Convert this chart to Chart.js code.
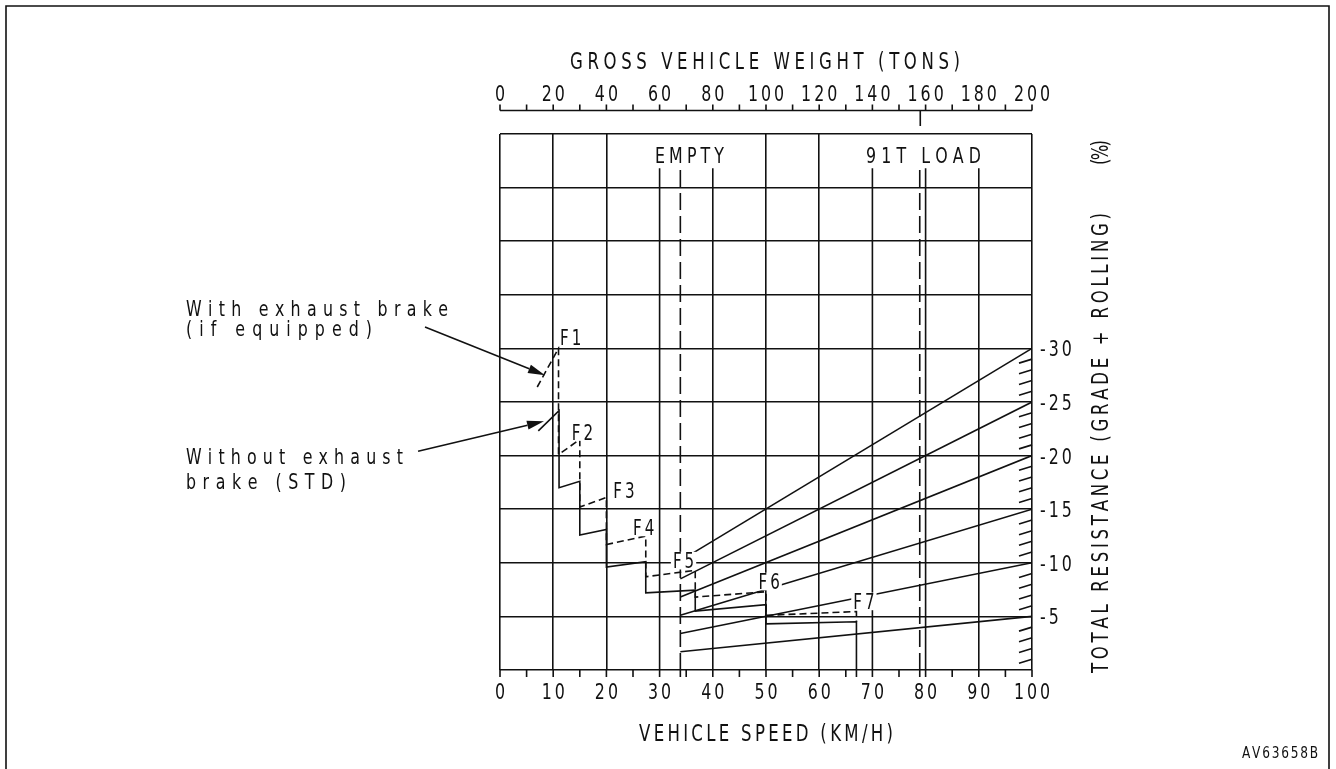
<!DOCTYPE html>
<html>
<head>
<meta charset="utf-8">
<title>Retarder performance</title>
<script src="https://cdn.jsdelivr.net/npm/chart.js@4.4.1/dist/chart.umd.min.js"></script>
<style>
  html, body { margin: 0; padding: 0; background: #fff; }
  #wrap { width: 1336px; height: 769px; }
</style>
</head>
<body>
<div id="wrap"><canvas id="chart" width="1336" height="769"></canvas></div>
<script>
// ---- axes ----
const SPEED_LABELS = [0, 10, 20, 30, 40, 50, 60, 70, 80, 90, 100];
const SPEED_TICKS = [0, 5, 10, 15, 20, 25, 30, 35, 40, 45, 50, 55, 60, 65, 70, 75, 80, 85, 90, 95, 100];
const WEIGHT_LABELS = [0, 20, 40, 60, 80, 100, 120, 140, 160, 180, 200];
const WEIGHT_TICKS = [0, 10, 20, 30, 40, 50, 60, 70, 80, 90, 100, 110, 120, 130, 140, 150, 160, 170, 180, 190, 200];
const RESIST_LABELS = [5, 10, 15, 20, 25, 30];
const RESIST_HATCH = [1, 2, 3, 4, 6, 7, 8, 9, 11, 12, 13, 14, 16, 17, 18, 19, 21, 22, 23, 24, 26, 27, 28, 29];

// verticals that stop below the EMPTY / 91T LOAD captions
const FULL_GRID_SPEEDS = [0, 10, 20, 50, 60, 100];
const SHORT_GRID_SPEEDS = [30, 40, 70, 80, 90];
const SHORT_GRID_TOP = 46.8;

// empty / loaded machine
const EMPTY_SPEED = 33.9;
const LOADED_SPEED = 78.9;
const LOADED_WEIGHT = 158;

// total resistance lines: value at 200 t and value where they leave the EMPTY line
const GRADES = [5, 10, 15, 20, 25, 30];
const GRADE_AT_EMPTY = [1.7, 3.4, 5.1, 6.8, 8.5, 10.2];

// brake curves (speed km/h, resistance %)
const STD_SPEED  = [7.2, 11.1, 11.1, 15.0, 15.0, 20.0, 20.0, 27.4, 27.4, 36.7, 36.7, 50.0, 50.0, 67.0, 67.0];
const STD_RESIST = [22.3, 24.2, 17.0, 17.6, 12.6, 13.1, 9.6, 10.1, 7.2, 7.45, 5.5, 6.1, 4.3, 4.5, 0];
const EXH_SPEED  = [7.0, 11.0, 11.0, 15.0, 15.0, 20.0, 20.0, 27.4, 27.4, 36.7, 36.7, 50.0, 50.0, 67.0, 67.0];
const EXH_RESIST = [26.4, 30.0, 20.1, 21.5, 15.2, 16.1, 11.7, 12.5, 8.7, 9.3, 6.8, 7.3, 5.1, 5.45, 4.5];

// gear captions
const GEARS = ['F1', 'F2', 'F3', 'F4', 'F5', 'F6', 'F7'];
const GEAR_SPEED = [13.3, 15.5, 23.3, 27.0, 34.5, 50.6, 68.4];
const GEAR_RESIST = [31.0, 22.2, 16.8, 13.3, 10.2, 8.25, 6.4];

// callout arrows [from speed, from %, to speed, to %]
const ARROW_EXH = [-14.1, 32.0, 8.46, 27.5];
const ARROW_STD = [-15.4, 20.4, 8.27, 23.2];

const INK = '#111';
const FONT = "'DejaVu Sans Condensed', 'DejaVu Sans', sans-serif";
const SQUEEZE = 0.8;

function pts(xs, ys) { return xs.map((x, i) => ({ x, y: ys[i] })); }

function line(data, dash) {
  return {
    data, showLine: true, pointRadius: 0, borderColor: INK, borderWidth: 1.6,
    borderDash: dash || [], fill: false, tension: 0
  };
}

const datasets = [];
GRADES.forEach((g, i) => datasets.push(line([{ x: EMPTY_SPEED, y: GRADE_AT_EMPTY[i] }, { x: 100, y: g }])));
SHORT_GRID_SPEEDS.forEach(s => datasets.push(line([{ x: s, y: 0 }, { x: s, y: SHORT_GRID_TOP }])));
datasets.push(line([{ x: EMPTY_SPEED, y: 0 }, { x: EMPTY_SPEED, y: SHORT_GRID_TOP }], [17, 6]));
datasets.push(line([{ x: LOADED_SPEED, y: 0 }, { x: LOADED_SPEED, y: SHORT_GRID_TOP }], [17, 6]));
datasets.push(line(pts(STD_SPEED, STD_RESIST)));
datasets.push(line(pts(EXH_SPEED, EXH_RESIST), [7, 4]));

// narrow lettering drawn glyph by glyph; gap or total width sets the spacing
function spaced(ctx, text, x, cy, o) {
  const size = o.size || 22;
  const sx = o.squeeze || SQUEEZE;
  ctx.font = size + 'px ' + FONT;
  const chars = [...text];
  const w = chars.map(c => ctx.measureText(c).width * sx);
  const raw = w.reduce((a, b) => a + b, 0);
  let gap = o.gap || 0;
  if (o.width) gap = (o.width - raw) / (chars.length - 1);
  const total = raw + gap * (chars.length - 1);
  let cx = o.align === 'center' ? x - total / 2 : o.align === 'right' ? x - total : x;
  const base = cy + size * 0.365;
  ctx.textAlign = 'left';
  ctx.textBaseline = 'alphabetic';
  if (o.bg) {
    ctx.save();
    ctx.fillStyle = '#fff';
    ctx.fillRect(cx - 2, cy - size * 0.42, total + 4, size * 0.84);
    ctx.restore();
  }
  chars.forEach((c, i) => {
    ctx.save();
    ctx.translate(cx, base);
    ctx.scale(sx, 1);
    ctx.fillText(c, 0, 0);
    ctx.restore();
    cx += w[i] + gap;
  });
  return total;
}

function arrow(ctx, x0, y0, x1, y1) {
  const a = Math.atan2(y1 - y0, x1 - x0);
  const len = 17, half = 4.5;
  ctx.beginPath();
  ctx.moveTo(x0, y0);
  ctx.lineTo(x1 - len * Math.cos(a), y1 - len * Math.sin(a));
  ctx.stroke();
  ctx.beginPath();
  ctx.moveTo(x1, y1);
  ctx.lineTo(x1 - len * Math.cos(a) - half * Math.sin(a), y1 - len * Math.sin(a) + half * Math.cos(a));
  ctx.lineTo(x1 - len * Math.cos(a) + half * Math.sin(a), y1 - len * Math.sin(a) - half * Math.cos(a));
  ctx.closePath();
  ctx.fill();
}

const decor = {
  id: 'decor',
  afterDatasetsDraw(chart) {
    const ctx = chart.ctx;
    const xs = chart.scales.x, ys = chart.scales.y, ws = chart.scales.w;
    const { top, bottom, right } = chart.chartArea;
    ctx.save();
    ctx.strokeStyle = INK;
    ctx.fillStyle = INK;
    ctx.lineWidth = 1.6;

    // sheet frame
    ctx.beginPath();
    ctx.moveTo(6, 780); ctx.lineTo(6, 6); ctx.lineTo(1329, 6); ctx.lineTo(1329, 780);
    ctx.stroke();

    // speed ticks under the plot
    ctx.beginPath();
    SPEED_TICKS.concat([EMPTY_SPEED, STD_SPEED[STD_SPEED.length - 1], LOADED_SPEED]).forEach(v => {
      const px = xs.getPixelForValue(v);
      ctx.moveTo(px, bottom); ctx.lineTo(px, bottom + 7);
    });
    ctx.stroke();

    // weight scale above the plot
    const wy = 110.5;
    ctx.beginPath();
    ctx.moveTo(ws.getPixelForValue(0), wy); ctx.lineTo(ws.getPixelForValue(200), wy);
    WEIGHT_TICKS.forEach(v => {
      const px = ws.getPixelForValue(v);
      ctx.moveTo(px, wy); ctx.lineTo(px, wy - 6);
    });
    const lp = ws.getPixelForValue(LOADED_WEIGHT);
    ctx.moveTo(lp, wy); ctx.lineTo(lp, top - 8);
    ctx.stroke();
    WEIGHT_LABELS.forEach(v => spaced(ctx, String(v), ws.getPixelForValue(v), 93, { gap: 3, align: 'center' }));
    spaced(ctx, 'GROSS VEHICLE WEIGHT (TONS)', 570, 61, { size: 23, width: 390 });

    // resistance hatching on the right edge
    ctx.beginPath();
    RESIST_HATCH.forEach(v => {
      const py = ys.getPixelForValue(v);
      ctx.moveTo(right - 13, py + 4); ctx.lineTo(right, py);
    });
    ctx.stroke();
    RESIST_LABELS.forEach(v => spaced(ctx, '-' + v, right + 8, ys.getPixelForValue(v), { gap: 3 }));

    // speed labels
    SPEED_LABELS.forEach(v => spaced(ctx, String(v), xs.getPixelForValue(v), 691, { gap: 3, align: 'center' }));
    spaced(ctx, 'VEHICLE SPEED (KM/H)', 639, 733, { size: 23, width: 254 });

    // captions inside the plot
    spaced(ctx, 'EMPTY', 655, 155, { width: 69 });
    spaced(ctx, '91T LOAD', 866, 155, { width: 115 });
    GEARS.forEach((g, i) => spaced(ctx, g, xs.getPixelForValue(GEAR_SPEED[i]), ys.getPixelForValue(GEAR_RESIST[i]),
      { size: 21, gap: 3, align: 'center', bg: true }));

    // rotated axis title
    ctx.save();
    ctx.translate(1100, 673);
    ctx.rotate(-Math.PI / 2);
    spaced(ctx, 'TOTAL RESISTANCE (GRADE + ROLLING)', 0, 0, { size: 23, width: 460 });
    spaced(ctx, '(%)', 508, 0, { size: 23, width: 25 });
    ctx.restore();

    // callouts
    spaced(ctx, 'With exhaust brake', 186, 308, { width: 262 });
    spaced(ctx, '(if equipped)', 186, 328, { width: 186 });
    spaced(ctx, 'Without exhaust', 186, 456, { width: 217 });
    spaced(ctx, 'brake (STD)', 186, 481, { width: 160 });
    [ARROW_EXH, ARROW_STD].forEach(a => arrow(ctx,
      xs.getPixelForValue(a[0]), ys.getPixelForValue(a[1]),
      xs.getPixelForValue(a[2]), ys.getPixelForValue(a[3])));

    spaced(ctx, 'AV63658B', 1318, 753, { size: 15, squeeze: 0.9, width: 76, align: 'right' });
    ctx.restore();
  }
};

new Chart(document.getElementById('chart'), {
  type: 'scatter',
  data: { datasets },
  options: {
    responsive: false,
    animation: false,
    layout: { padding: { left: 500, right: 304, top: 134, bottom: 99 } },
    plugins: { legend: { display: false }, tooltip: { enabled: false } },
    scales: {
      x: {
        type: 'linear', min: 0, max: 100,
        ticks: { display: false, stepSize: 10 },
        grid: {
          color: c => FULL_GRID_SPEEDS.includes(c.tick.value) ? INK : 'rgba(0,0,0,0)',
          lineWidth: 1.6, drawTicks: false
        },
        border: { display: false }
      },
      w: { type: 'linear', axis: 'x', position: 'top', min: 0, max: 200, display: false },
      y: {
        position: 'right', min: 0, max: 50,
        ticks: { display: false, stepSize: 5 },
        grid: { color: INK, lineWidth: 1.6, drawTicks: false },
        border: { display: false }
      }
    }
  },
  plugins: [decor]
});
</script>
</body>
</html>
